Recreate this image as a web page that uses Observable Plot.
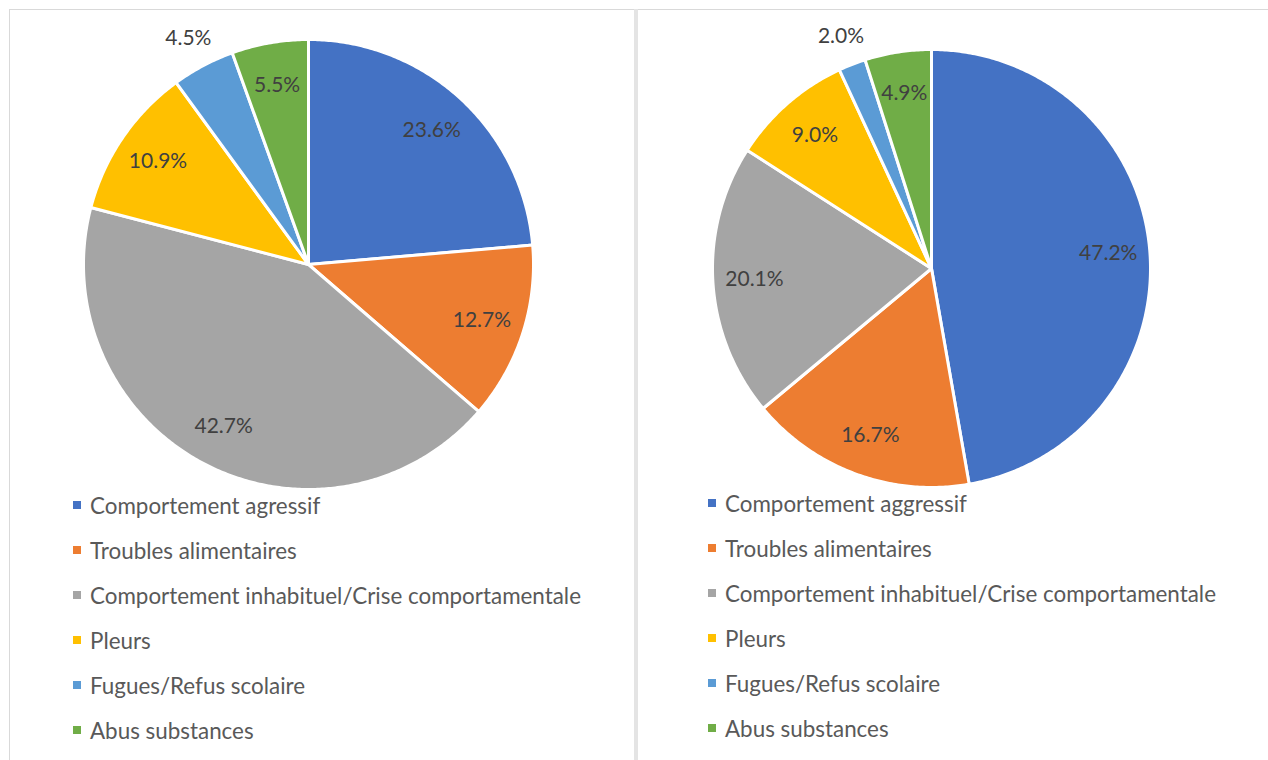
<!DOCTYPE html>
<html>
<head>
<meta charset="utf-8">
<script src="https://cdn.jsdelivr.net/npm/d3@7"></script>
<script src="https://cdn.jsdelivr.net/npm/@observablehq/plot@0.6"></script>
<style>
  html, body { margin: 0; padding: 0; background: #fff; }
  body { width: 1268px; height: 760px; position: relative; overflow: hidden; font-family: Lato, "Open Sans", sans-serif; }
  .frame-top { position: absolute; left: 9px; top: 9px; width: 1259px; height: 0; border-top: 1.5px solid #d9d9d9; }
  .frame-left { position: absolute; left: 9px; top: 9px; width: 0; height: 751px; border-left: 1.5px solid #d9d9d9; }
  .divider { position: absolute; left: 634px; top: 9px; width: 4px; height: 751px; background: #e4e4e4; }
  .panel { position: absolute; top: 10px; }
  .legend { position: absolute; }
  .legend .row { position: absolute; white-space: nowrap; display: flex; align-items: center; height: 26px; font-size: 22.4px; color: #595959; }
  .legend .sw { width: 8px; height: 8px; margin-right: 9px; }
</style>
</head>
<body>
<div class="frame-top"></div>
<div class="frame-left"></div>
<div class="divider"></div>
<div id="p1" class="panel" style="left:10px"></div>
<div id="p2" class="panel" style="left:638px"></div>
<div id="l1" class="legend" style="left:73px; top:492px"></div>
<div id="l2" class="legend" style="left:708px; top:490px"></div>
<script>
// Categories and colours
const categories1 = ["Comportement agressif", "Troubles alimentaires", "Comportement inhabituel/Crise comportamentale", "Pleurs", "Fugues/Refus scolaire", "Abus substances"];
const categories2 = ["Comportement aggressif", "Troubles alimentaires", "Comportement inhabituel/Crise comportamentale", "Pleurs", "Fugues/Refus scolaire", "Abus substances"];
const colors = ["#4472C4", "#ED7D31", "#A5A5A5", "#FFC000", "#5B9BD5", "#70AD47"];

// Values (percent)
const values1 = [23.6, 12.7, 42.7, 10.9, 4.5, 5.5];
const values2 = [47.2, 16.7, 20.1, 9.0, 2.0, 4.9];

// Which labels sit outside the pie
const outside1 = [false, false, false, false, true, false];
const outside2 = [false, false, false, false, true, false];

function buildPie(el, cats, vals, outside, cx, cy, r, w, h) {
  const pie = d3.pie().sort(null).value(d => d)(vals);
  const slices = [];
  const labels = [];
  pie.forEach((p, i) => {
    const cat = cats[i];
    slices.push({cat, x: 0, y: 0});
    const steps = Math.max(2, Math.ceil((p.endAngle - p.startAngle) / 0.01));
    for (let k = 0; k <= steps; k++) {
      const a = p.startAngle + (p.endAngle - p.startAngle) * k / steps;
      slices.push({cat, x: Math.sin(a), y: Math.cos(a)});
    }
    slices.push({cat, x: 0, y: 0});
    const mid = (p.startAngle + p.endAngle) / 2;
    const lr = outside[i] ? 1.14 : 0.81;
    labels.push({x: lr * Math.sin(mid), y: lr * Math.cos(mid), text: vals[i].toFixed(1) + "%"});
  });
  const svg = Plot.plot({
    width: w,
    height: h,
    margin: 0,
    x: {domain: [-1, 1], range: [cx - r, cx + r], axis: null},
    y: {domain: [-1, 1], range: [cy + r, cy - r], axis: null},
    color: {domain: cats, range: colors},
    style: {background: "transparent", fontFamily: "Lato, sans-serif"},
    marks: [
      Plot.line(slices, {x: "x", y: "y", z: "cat", fill: "cat", stroke: "#ffffff", strokeWidth: 3, strokeLinejoin: "round", curve: "linear"}),
      Plot.text(labels, {x: "x", y: "y", text: "text", fill: "#404040", fontSize: 21})
    ]
  });
  el.appendChild(svg);
}

function buildLegend(el, cats) {
  cats.forEach((c, i) => {
    const row = document.createElement("div");
    row.className = "row";
    row.style.top = (i * 45) + "px";
    row.style.left = "0px";
    const sw = document.createElement("div");
    sw.className = "sw";
    sw.style.background = colors[i];
    const t = document.createElement("span");
    t.textContent = c;
    row.appendChild(sw);
    row.appendChild(t);
    el.appendChild(row);
  });
}

buildPie(document.getElementById("p1"), categories1, values1, outside1, 298, 254, 225, 624, 484);
buildPie(document.getElementById("p2"), categories2, values2, outside2, 293, 258, 219, 630, 484);
buildLegend(document.getElementById("l1"), categories1);
buildLegend(document.getElementById("l2"), categories2);
</script>
</body>
</html>
